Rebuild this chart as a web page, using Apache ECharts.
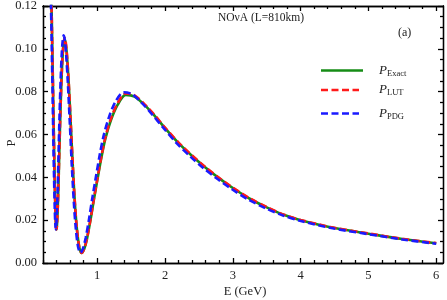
<!DOCTYPE html>
<html>
<head>
<meta charset="utf-8">
<script src="https://cdn.jsdelivr.net/npm/echarts@6/dist/echarts.min.js"></script>
<style>html,body{margin:0;padding:0;background:#fff}#c{width:447px;height:300px}</style>
</head>
<body>
<div id="c"></div>
<script>
// ---- data ----
const eExact = [0.318,0.325,0.333,0.342,0.352,0.362,0.372,0.382,0.39,0.397,0.405,0.415,0.427,0.44,0.455,0.47,0.485,0.50,0.518,0.535,0.555,0.58,0.61,0.64,0.67,0.70,0.735,0.77,0.81,0.85,0.90,0.95,1.0,1.06,1.12,1.2,1.3,1.42,1.55,1.7,1.85,2.0,2.2,2.4,2.6,2.8,3.0,3.25,3.5,3.75,4.0,4.5,5.0,5.5,6.0];
const pExact = [0.13,0.121,0.108,0.092,0.074,0.056,0.040,0.026,0.0185,0.0157,0.0172,0.0235,0.035,0.051,0.068,0.083,0.094,0.101,0.1045,0.1025,0.096,0.0835,0.0645,0.045,0.028,0.0158,0.0074,0.0047,0.0068,0.0115,0.020,0.0295,0.0385,0.049,0.058,0.0665,0.0738,0.0785,0.0777,0.0737,0.0686,0.063,0.056,0.050,0.0445,0.0395,0.035,0.030,0.026,0.0225,0.020,0.0163,0.0137,0.0112,0.0092];

const eLUT = [0.318,0.325,0.333,0.342,0.352,0.362,0.372,0.382,0.39,0.397,0.405,0.415,0.427,0.44,0.455,0.47,0.485,0.50,0.518,0.535,0.555,0.58,0.61,0.64,0.67,0.70,0.735,0.77,0.81,0.85,0.90,0.95,1.0,1.06,1.12,1.2,1.3,1.42,1.55,1.7,1.85,2.0,2.2,2.4,2.6,2.8,3.0,3.25,3.5,3.75,4.0,4.5,5.0,5.5,6.0];
const pLUT = [0.13,0.121,0.108,0.092,0.074,0.056,0.040,0.026,0.0185,0.0157,0.0172,0.0235,0.035,0.051,0.0685,0.0835,0.0947,0.1017,0.1052,0.1032,0.0966,0.084,0.065,0.0455,0.0283,0.016,0.0075,0.0047,0.0069,0.0117,0.0203,0.0299,0.039,0.0496,0.0587,0.0673,0.0746,0.0792,0.0783,0.0741,0.0689,0.0632,0.0562,0.0502,0.0447,0.0397,0.0352,0.0302,0.0261,0.0226,0.0201,0.0164,0.0138,0.0113,0.0093];

const ePDG = [0.31,0.317,0.325,0.334,0.344,0.353,0.363,0.373,0.381,0.388,0.395,0.405,0.417,0.43,0.444,0.459,0.474,0.488,0.505,0.522,0.542,0.566,0.596,0.625,0.655,0.684,0.718,0.752,0.791,0.83,0.879,0.927,0.976,1.035,1.094,1.172,1.27,1.39,1.515,1.665,1.815,1.97,2.17,2.37,2.57,2.78,2.98,3.23,3.48,3.74,3.99,4.49,4.99,5.5,6.0];
const pPDG = [0.13,0.121,0.108,0.092,0.074,0.056,0.040,0.026,0.0185,0.0157,0.0172,0.0237,0.0355,0.052,0.069,0.0845,0.096,0.103,0.1063,0.104,0.097,0.0845,0.065,0.0455,0.0283,0.016,0.0075,0.0047,0.0069,0.0118,0.0205,0.0302,0.0393,0.0502,0.0594,0.068,0.0754,0.0797,0.0788,0.0745,0.0692,0.0633,0.056,0.0498,0.0442,0.0391,0.0346,0.0296,0.0256,0.0222,0.0197,0.0161,0.0135,0.0110,0.0090];

const xMajor = [1,2,3,4,5,6];
const yMajor = [0,0.02,0.04,0.06,0.08,0.10,0.12];
const xMinor = [];
for (let i = 1; i <= 30; i++) { const v = +(i*0.2).toFixed(1); if (Math.abs(v - Math.round(v)) > 1e-6 && v < 6.1) xMinor.push(v); }
const yMinor = [];
for (let i = 1; i < 24; i++) { const v = +(i*0.005).toFixed(3); if (i % 4 !== 0) yMinor.push(v); }

const serif = 'Liberation Serif';
const XMIN = 0.2, XMAX = 6.1, YMIN = 0, YMAX = 0.12;

function xAx(pos, ticks, len, showLabel) {
  return {
    type: 'value', min: XMIN, max: XMAX, position: pos,
    axisLine: { show: true, onZero: false, lineStyle: { color: '#000', width: 1.3 } },
    axisTick: { show: true, inside: true, length: len, customValues: ticks, lineStyle: { color: '#000', width: 1.3 } },
    axisLabel: { show: showLabel, customValues: ticks, fontFamily: serif, fontSize: 12.5, color: '#222', margin: 6 },
    splitLine: { show: false }
  };
}
function yAx(pos, ticks, len, showLabel) {
  return {
    type: 'value', min: YMIN, max: YMAX, position: pos,
    axisLine: { show: true, onZero: false, lineStyle: { color: '#000', width: 1.3 } },
    axisTick: { show: true, inside: true, length: len, customValues: ticks, lineStyle: { color: '#000', width: 1.3 } },
    axisLabel: { show: showLabel, customValues: ticks, fontFamily: serif, fontSize: 12.5, color: '#222', margin: 6,
      formatter: v => v.toFixed(2) },
    splitLine: { show: false }
  };
}

const xAxes = [xAx('bottom', xMajor, 5, true), xAx('bottom', xMinor, 3, false), xAx('top', xMajor, 5, false), xAx('top', xMinor, 3, false)];
const yAxes = [yAx('left', yMajor, 5, true), yAx('left', yMinor, 3, false), yAx('right', yMajor, 5, false), yAx('right', yMinor, 3, false)];

function mk(e, p) { return e.map((v, i) => [v, p[i]]); }

const chart = echarts.init(document.getElementById('c'), null, { renderer: 'canvas' });
chart.setOption({
  animation: false,
  grid: { left: 43, right: 4, top: 6, bottom: 37, containLabel: false, outerBoundsMode: 'none' },
  xAxis: xAxes,
  yAxis: yAxes,
  series: [
    { name: 'Exact', type: 'line', data: mk(eExact, pExact), showSymbol: false, smooth: 0.3, clip: true,
      lineStyle: { color: '#168c16', width: 2.6 } },
    { name: 'LUT', type: 'line', data: mk(eLUT, pLUT), showSymbol: false, smooth: 0.3, clip: true,
      lineStyle: { color: '#ff1a1a', width: 2.6, type: [7, 3.5] } },
    { name: 'PDG', type: 'line', data: mk(ePDG, pPDG), showSymbol: false, smooth: 0.3, clip: true,
      lineStyle: { color: '#1a1aff', width: 2.6, type: [7, 3.5], dashOffset: 3 } }
  ],
  graphic: [
    { type: 'text', x: 245, y: 292, style: { text: 'E (GeV)', font: '12.5px "Liberation Serif"', fill: '#222', align: 'center', verticalAlign: 'middle' } },
    { type: 'text', x: 12, y: 143, rotation: Math.PI / 2, style: { text: 'P', font: '12.5px "Liberation Serif"', fill: '#222', align: 'center', verticalAlign: 'middle' } },
    { type: 'text', left: 218, top: 12, style: { text: 'NOνA (L=810km)', font: '11.5px "Liberation Serif"', fill: '#222' } },
    { type: 'text', left: 398, top: 27, style: { text: '(a)', font: '12px "Liberation Serif"', fill: '#222' } },
    { type: 'line', shape: { x1: 321, y1: 70.5, x2: 363, y2: 70.5 }, style: { stroke: '#168c16', lineWidth: 2.6 } },
    { type: 'line', shape: { x1: 321, y1: 90, x2: 359, y2: 90 }, style: { stroke: '#ff1a1a', lineWidth: 2.6, lineDash: [7, 3.5] } },
    { type: 'line', shape: { x1: 321, y1: 113.5, x2: 359, y2: 113.5 }, style: { stroke: '#1a1aff', lineWidth: 2.6, lineDash: [7, 3.5] } },
    { type: 'text', left: 379, top: 64, style: { text: '{i|P}{s|Exact}', fill: '#222',
        rich: { i: { fontFamily: serif, fontStyle: 'italic', fontSize: 13 }, s: { fontFamily: serif, fontSize: 8.5, padding: [6, 0, 0, 0] } } } },
    { type: 'text', left: 379, top: 83, style: { text: '{i|P}{s|LUT}', fill: '#222',
        rich: { i: { fontFamily: serif, fontStyle: 'italic', fontSize: 13 }, s: { fontFamily: serif, fontSize: 8.5, padding: [6, 0, 0, 0] } } } },
    { type: 'text', left: 379, top: 107, style: { text: '{i|P}{s|PDG}', fill: '#222',
        rich: { i: { fontFamily: serif, fontStyle: 'italic', fontSize: 13 }, s: { fontFamily: serif, fontSize: 8.5, padding: [6, 0, 0, 0] } } } }
  ]
});
</script>
</body>
</html>
